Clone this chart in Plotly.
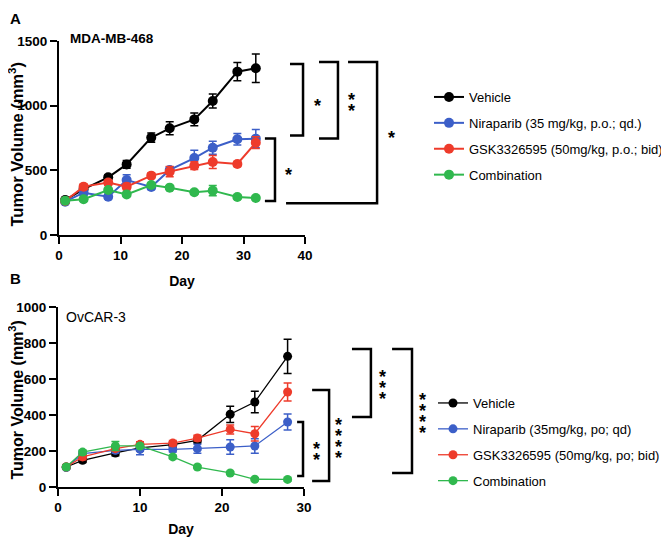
import plotly.graph_objects as go

# ---- panel A: MDA-MB-468 ----
days_a = [1, 4, 8, 11, 15, 18, 22, 25, 29, 32]
vehicle_a = [270, 355, 446, 546, 753, 825, 894, 1036, 1263, 1289]
vehicle_a_err = [20, 25, 20, 30, 35, 50, 50, 55, 70, 110]
nira_a = [258, 327, 296, 425, 372, 503, 595, 675, 740, 745]
nira_a_err = [15, 20, 20, 40, 20, 25, 60, 50, 45, 70]
gsk_a = [263, 374, 405, 374, 459, 490, 536, 564, 549, 714]
gsk_a_err = [15, 20, 20, 25, 20, 40, 30, 50, 20, 45]
combo_a = [265, 276, 348, 314, 387, 366, 330, 343, 294, 286]
combo_a_err = [10, 15, 15, 15, 15, 15, 15, 40, 15, 15]

# ---- panel B: OvCAR-3 ----
days_b = [1, 3, 7, 10, 14, 17, 21, 24, 28]
vehicle_b = [111, 148, 189, 217, 235, 259, 404, 472, 726]
vehicle_b_err = [10, 12, 15, 15, 15, 15, 45, 60, 95]
nira_b = [108, 185, 204, 209, 209, 213, 222, 228, 361]
nira_b_err = [10, 15, 15, 30, 15, 25, 40, 40, 45]
gsk_b = [111, 167, 213, 237, 244, 272, 320, 296, 528]
gsk_b_err = [10, 15, 15, 15, 15, 15, 25, 40, 50]
combo_b = [111, 194, 228, 228, 167, 111, 78, 43, 42]
combo_b_err = [10, 12, 25, 10, 10, 8, 8, 8, 8]

labels_a = ["Vehicle", "Niraparib (35 mg/kg, p.o.; qd.)",
            "GSK3326595 (50mg/kg, p.o.; bid)", "Combination"]
labels_b = ["Vehicle", "Niraparib (35mg/kg, po; qd)",
            "GSK3326595 (50mg/kg, po; bid)", "Combination"]
colors = ["#000000", "#3C5FC8", "#EE3B2B", "#30B84E"]

FONT = "Arial, Liberation Sans, sans-serif"
W, H = 669, 541
OFF = 8  # page body margin


def px_x(px):
    return (px - OFF) / W


def px_y(py):
    return 1 - (py - OFF) / H


fig = go.Figure()

series_a = [(vehicle_a, vehicle_a_err), (nira_a, nira_a_err),
            (gsk_a, gsk_a_err), (combo_a, combo_a_err)]
series_b = [(vehicle_b, vehicle_b_err), (nira_b, nira_b_err),
            (gsk_b, gsk_b_err), (combo_b, combo_b_err)]

for i, (vals, err) in enumerate(series_a):
    fig.add_trace(go.Scatter(
        x=days_a, y=vals, mode="lines+markers", name=labels_a[i],
        line=dict(color=colors[i], width=2),
        marker=dict(color=colors[i], size=10),
        error_y=dict(type="data", array=err, color=colors[i], thickness=1.5, width=4),
        xaxis="x", yaxis="y", legend="legend", legendgroup="a%d" % i,
    ))

for i, (vals, err) in enumerate(series_b):
    fig.add_trace(go.Scatter(
        x=days_b, y=vals, mode="lines+markers", name=labels_b[i],
        line=dict(color=colors[i], width=1.3),
        marker=dict(color=colors[i], size=9),
        error_y=dict(type="data", array=err, color=colors[i], thickness=1.5, width=4),
        xaxis="x2", yaxis="y2", legend="legend2", legendgroup="b%d" % i,
    ))

axis_style = dict(
    showline=True, linecolor="black", linewidth=2, ticks="outside",
    ticklen=7, tickwidth=2, tickcolor="black", showgrid=False, zeroline=False,
    tickfont=dict(family=FONT, size=13.5, color="black", weight="bold"),
    automargin=False,
)
x_title_font = dict(family=FONT, size=14, color="black", weight="bold")
legend_font = dict(family=FONT, size=13, color="black")

fig.update_layout(
    width=W, height=H,
    margin=dict(l=0, r=0, t=0, b=0),
    plot_bgcolor="white", paper_bgcolor="white",
    xaxis=dict(axis_style, domain=[px_x(59), px_x(305)], anchor="y",
               range=[0, 40], tickvals=[0, 10, 20, 30, 40],
               title=dict(text="Day", font=x_title_font, standoff=14)),
    yaxis=dict(axis_style, domain=[px_y(235), px_y(41)], anchor="x",
               range=[0, 1500], tickvals=[0, 500, 1000, 1500]),
    xaxis2=dict(axis_style, domain=[px_x(58), px_x(304)], anchor="y2",
                range=[0, 30], tickvals=[0, 10, 20, 30],
                title=dict(text="Day", font=x_title_font, standoff=10)),
    yaxis2=dict(axis_style, domain=[px_y(487), px_y(307)], anchor="x2",
                range=[0, 1000], tickvals=[0, 200, 400, 600, 800, 1000]),
    legend=dict(x=px_x(429), y=px_y(82), xanchor="left", yanchor="top",
                font=legend_font, tracegroupgap=6, bgcolor="rgba(0,0,0,0)"),
    legend2=dict(x=px_x(433), y=px_y(388), xanchor="left", yanchor="top",
                 font=legend_font, tracegroupgap=6, bgcolor="rgba(0,0,0,0)"),
    showlegend=True,
)

# y-axis titles
for ty, size in [(145, 16.5), (400, 16)]:
    fig.add_annotation(text="<b>Tumor Volume (mm<sup>3</sup>)</b>", x=px_x(16.5), y=px_y(ty),
                       xref="paper", yref="paper", xanchor="center", yanchor="middle",
                       textangle=-90, showarrow=False,
                       font=dict(family=FONT, size=size, color="black"))

# panel letters and cell-line titles
fig.add_annotation(text="<b>A</b>", x=0, y=1, xref="paper", yref="paper",
                   xanchor="left", yanchor="top", showarrow=False,
                   font=dict(family=FONT, size=15, color="black"))
fig.add_annotation(text="<b>B</b>", x=0, y=px_y(268), xref="paper", yref="paper",
                   xanchor="left", yanchor="top", showarrow=False,
                   font=dict(family=FONT, size=15, color="black"))
fig.add_annotation(text="<b>MDA-MB-468</b>", x=px_x(68), y=px_y(38), xref="paper", yref="paper",
                   xanchor="left", yanchor="middle", showarrow=False,
                   font=dict(family=FONT, size=13.5, color="black"))
fig.add_annotation(text="OvCAR-3", x=px_x(64), y=px_y(317), xref="paper", yref="paper",
                   xanchor="left", yanchor="middle", showarrow=False,
                   font=dict(family=FONT, size=14, color="black"))

# significance brackets: (axis, top arm start, bottom arm start, vertical x, y top, y bottom,
#                         star x, star y, star count)
brackets = [
    ("", 0.939, 0.939, 0.992, 1323, 769, 1.049, 1038, 1),
    ("", 1.057, 1.057, 1.134, 1338, 746, 1.191, 1038, 2),
    ("", 1.175, 0.923, 1.293, 1338, 246, 1.350, 785, 1),
    ("", 0.837, 0.837, 0.878, 746, 262, 0.931, 500, 1),
    ("2", 0.972, 0.972, 0.996, 361, 61, 1.049, 206, 2),
    ("2", 1.033, 1.033, 1.102, 539, 33, 1.142, 283, 4),
    ("2", 1.195, 1.195, 1.272, 767, 389, 1.321, 578, 3),
    ("2", 1.358, 1.358, 1.439, 767, 78, 1.480, 417, 4),
]
for ax, xt, xb, xv, yt, yb, sx, sy, n in brackets:
    fig.add_shape(type="path", xref="x%s domain" % ax, yref="y%s" % ax,
                  path="M %f,%f L %f,%f L %f,%f L %f,%f" % (xt, yt, xv, yt, xv, yb, xb, yb),
                  line=dict(color="black", width=2.5))
    for k in range(n):
        fig.add_annotation(text="*", x=sx, y=sy, xref="x%s domain" % ax, yref="y%s" % ax,
                           xanchor="center", yanchor="middle", showarrow=False,
                           yshift=-5 - (k - (n - 1) / 2) * 11,
                           font=dict(family=FONT, size=18, color="black", weight="bold"))

fig.write_html("out.html")
